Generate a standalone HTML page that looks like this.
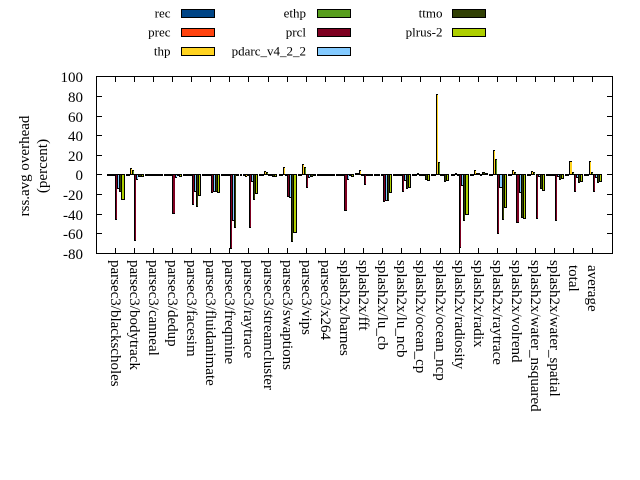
<!DOCTYPE html>
<html><head><meta charset="utf-8">
<style>
body{margin:0;width:640px;height:480px;background:#fff;position:relative;overflow:hidden;font-family:"Liberation Serif",serif}
svg{position:absolute;left:0;top:0}
#bars{position:absolute;left:105.55px;top:174px;display:flex;height:0}
.c{position:relative;width:19.111px;height:0;flex:none}
.c i{position:absolute;width:1.12px;border:1px solid #000;border-right:0;height:calc(var(--v) * 0.981px - 1px)}
.c i.n{top:0}
.c i.p{bottom:-1px}
.c i:nth-child(1){left:1.06px;background:#004586}
.c i:nth-child(2){left:3.19px;background:#ff420e}
.c i:nth-child(3){left:5.31px;background:#ffd320}
.c i:nth-child(4){left:7.43px;background:#579d1c}
.c i:nth-child(5){left:9.555px;background:#7e0021}
.c i:nth-child(6){left:11.68px;background:#83caff}
.c i:nth-child(7){left:13.80px;background:#314004}
.c i:nth-child(8){left:15.93px;background:#aecf00;border-right:1px solid #000}
</style></head><body>
<svg width="640" height="480" viewBox="0 0 640 480" font-family="Liberation Serif, serif">
<rect x="96.5" y="76.5" width="516" height="177" fill="none" stroke="#000" shape-rendering="crispEdges"/>
<path shape-rendering="crispEdges" stroke="#000" fill="none" d="
M115.5 253V248M134.5 253V248M153.5 253V248M172.5 253V248M191.5 253V248M210.5 253V248M229.5 253V248M248.5 253V248M268.5 253V248M287.5 253V248M306.5 253V248M325.5 253V248M344.5 253V248M363.5 253V248M382.5 253V248M401.5 253V248M420.5 253V248M440.5 253V248M459.5 253V248M478.5 253V248M497.5 253V248M516.5 253V248M535.5 253V248M554.5 253V248M573.5 253V248M592.5 253V248
M115.5 77V82M134.5 77V82M153.5 77V82M172.5 77V82M191.5 77V82M210.5 77V82M229.5 77V82M248.5 77V82M268.5 77V82M287.5 77V82M306.5 77V82M325.5 77V82M344.5 77V82M363.5 77V82M382.5 77V82M401.5 77V82M420.5 77V82M440.5 77V82M459.5 77V82M478.5 77V82M497.5 77V82M516.5 77V82M535.5 77V82M554.5 77V82M573.5 77V82M592.5 77V82
M97 96.5H102M97 116.5H102M97 135.5H102M97 155.5H102M97 174.5H102M97 194.5H102M97 214.5H102M97 233.5H102
M612 96.5H607M612 116.5H607M612 135.5H607M612 155.5H607M612 174.5H607M612 194.5H607M612 214.5H607M612 233.5H607"/>
<g font-size="15" text-anchor="end" fill="#000">
<text x="83" y="82">100</text>
<text x="83" y="102">80</text>
<text x="83" y="122">60</text>
<text x="83" y="141">40</text>
<text x="83" y="161">20</text>
<text x="83" y="180">0</text>
<text x="83" y="200">-20</text>
<text x="83" y="220">-40</text>
<text x="83" y="239">-60</text>
<text x="83" y="259">-80</text>
</g>
<g font-size="15" text-anchor="middle" fill="#000">
<text transform="translate(29,166) rotate(-90)">rss.avg overhead</text>
<text transform="translate(47,166) rotate(-90)">(percent)</text>
</g>
<g font-size="15" fill="#000">
<text transform="translate(111,260) rotate(90)">parsec3/blackscholes</text>
<text transform="translate(130,260) rotate(90)">parsec3/bodytrack</text>
<text transform="translate(149,260) rotate(90)">parsec3/canneal</text>
<text transform="translate(168,260) rotate(90)">parsec3/dedup</text>
<text transform="translate(187,260) rotate(90)">parsec3/facesim</text>
<text transform="translate(206,260) rotate(90)">parsec3/fluidanimate</text>
<text transform="translate(225,260) rotate(90)">parsec3/freqmine</text>
<text transform="translate(244,260) rotate(90)">parsec3/raytrace</text>
<text transform="translate(264,260) rotate(90)">parsec3/streamcluster</text>
<text transform="translate(283,260) rotate(90)">parsec3/swaptions</text>
<text transform="translate(302,260) rotate(90)">parsec3/vips</text>
<text transform="translate(321,260) rotate(90)">parsec3/x264</text>
<text transform="translate(340,260) rotate(90)">splash2x/barnes</text>
<text transform="translate(359,260) rotate(90)">splash2x/fft</text>
<text transform="translate(378,260) rotate(90)">splash2x/lu_cb</text>
<text transform="translate(397,260) rotate(90)">splash2x/lu_ncb</text>
<text transform="translate(416,260) rotate(90)">splash2x/ocean_cp</text>
<text transform="translate(436,260) rotate(90)">splash2x/ocean_ncp</text>
<text transform="translate(455,260) rotate(90)">splash2x/radiosity</text>
<text transform="translate(474,260) rotate(90)">splash2x/radix</text>
<text transform="translate(493,260) rotate(90)">splash2x/raytrace</text>
<text transform="translate(512,260) rotate(90)">splash2x/volrend</text>
<text transform="translate(531,260) rotate(90)">splash2x/water_nsquared</text>
<text transform="translate(550,260) rotate(90)">splash2x/water_spatial</text>
<text transform="translate(569,265) rotate(90)">total</text>
<text transform="translate(588,265) rotate(90)">average</text>
</g>
<g font-size="13" text-anchor="end" fill="#000">
<text x="170.5" y="17.5">rec</text>
<text x="170.5" y="36.5">prec</text>
<text x="170.5" y="55.5">thp</text>
<text x="306" y="17.5">ethp</text>
<text x="306" y="36.5">prcl</text>
<text x="306" y="55.5">pdarc_v4_2_2</text>
<text x="442.5" y="17.5">ttmo</text>
<text x="442.5" y="36.5">plrus-2</text>
</g>
<g stroke="#000" shape-rendering="crispEdges">
<rect x="181.5" y="9.5" width="33" height="8" fill="#004586"/>
<rect x="181.5" y="28.5" width="33" height="8" fill="#ff420e"/>
<rect x="181.5" y="47.5" width="33" height="8" fill="#ffd320"/>
<rect x="317.5" y="9.5" width="33" height="8" fill="#579d1c"/>
<rect x="317.5" y="28.5" width="33" height="8" fill="#7e0021"/>
<rect x="317.5" y="47.5" width="33" height="8" fill="#83caff"/>
<rect x="452.5" y="9.5" width="33" height="8" fill="#314004"/>
<rect x="452.5" y="28.5" width="33" height="8" fill="#aecf00"/>
</g>
</svg>
<div id="bars">
<div class="c"><i class="n" style="--v:.5"></i><i class="n" style="--v:.5"></i><i class="n" style="--v:.5"></i><i class="n" style="--v:1"></i><i class="n" style="--v:46"></i><i class="n" style="--v:14.6"></i><i class="n" style="--v:17.6"></i><i class="n" style="--v:25.8"></i></div>
<div class="c"><i class="n" style="--v:1"></i><i class="n" style="--v:1"></i><i class="p" style="--v:6.1"></i><i class="p" style="--v:4.1"></i><i class="n" style="--v:67"></i><i class="n" style="--v:5.1"></i><i class="n" style="--v:2"></i><i class="n" style="--v:2.4"></i></div>
<div class="c"><i class="n" style="--v:.5"></i><i class="n" style="--v:.5"></i><i class="n" style="--v:1"></i><i class="n" style="--v:.5"></i><i class="n" style="--v:.5"></i><i class="n" style="--v:1"></i><i class="n" style="--v:1"></i><i class="n" style="--v:1"></i></div>
<div class="c"><i class="n" style="--v:1"></i><i class="n" style="--v:1"></i><i class="n" style="--v:1"></i><i class="n" style="--v:1"></i><i class="n" style="--v:40"></i><i class="n" style="--v:3"></i><i class="n" style="--v:1"></i><i class="n" style="--v:2.4"></i></div>
<div class="c"><i class="n" style="--v:.3"></i><i class="n" style="--v:.3"></i><i class="n" style="--v:.3"></i><i class="n" style="--v:.3"></i><i class="n" style="--v:31"></i><i class="n" style="--v:17.6"></i><i class="n" style="--v:32.9"></i><i class="n" style="--v:21.7"></i></div>
<div class="c"><i class="n" style="--v:.5"></i><i class="n" style="--v:.5"></i><i class="n" style="--v:.5"></i><i class="n" style="--v:.5"></i><i class="n" style="--v:18.6"></i><i class="n" style="--v:17.6"></i><i class="n" style="--v:17.6"></i><i class="n" style="--v:18.6"></i></div>
<div class="c"><i class="n" style="--v:.5"></i><i class="n" style="--v:.5"></i><i class="n" style="--v:.5"></i><i class="n" style="--v:.5"></i><i class="n" style="--v:75.3"></i><i class="n" style="--v:46.8"></i><i class="n" style="--v:54"></i><i class="n" style="--v:.3"></i></div>
<div class="c"><i class="n" style="--v:.5"></i><i class="n" style="--v:.5"></i><i class="n" style="--v:2.3"></i><i class="n" style="--v:.5"></i><i class="n" style="--v:54"></i><i class="n" style="--v:7.5"></i><i class="n" style="--v:25.8"></i><i class="n" style="--v:19.7"></i></div>
<div class="c"><i class="n" style="--v:.3"></i><i class="n" style="--v:.3"></i><i class="p" style="--v:3.4"></i><i class="p" style="--v:2"></i><i class="n" style="--v:.7"></i><i class="n" style="--v:1"></i><i class="n" style="--v:2"></i><i class="n" style="--v:2"></i></div>
<div class="c"><i class="n" style="--v:.3"></i><i class="n" style="--v:.3"></i><i class="p" style="--v:7.5"></i><i class="n" style="--v:.3"></i><i class="n" style="--v:22.7"></i><i class="n" style="--v:23.7"></i><i class="n" style="--v:68.5"></i><i class="n" style="--v:59"></i></div>
<div class="c"><i class="n" style="--v:.3"></i><i class="n" style="--v:.3"></i><i class="p" style="--v:10.5"></i><i class="p" style="--v:7.5"></i><i class="n" style="--v:13.2"></i><i class="n" style="--v:3"></i><i class="n" style="--v:1.7"></i><i class="n" style="--v:1"></i></div>
<div class="c"><i class="n" style="--v:1"></i><i class="n" style="--v:1"></i><i class="n" style="--v:1"></i><i class="n" style="--v:1"></i><i class="n" style="--v:1"></i><i class="n" style="--v:.7"></i><i class="n" style="--v:1"></i><i class="n" style="--v:1"></i></div>
<div class="c"><i class="n" style="--v:.7"></i><i class="n" style="--v:.7"></i><i class="n" style="--v:.7"></i><i class="n" style="--v:.7"></i><i class="n" style="--v:37"></i><i class="n" style="--v:5.4"></i><i class="n" style="--v:1.4"></i><i class="n" style="--v:2"></i></div>
<div class="c"><i class="p" style="--v:1"></i><i class="p" style="--v:1"></i><i class="p" style="--v:4"></i><i class="n" style="--v:.3"></i><i class="n" style="--v:10"></i><i class="n" style="--v:.7"></i><i class="n" style="--v:.7"></i><i class="n" style="--v:.7"></i></div>
<div class="c"><i class="n" style="--v:.3"></i><i class="n" style="--v:.3"></i><i class="n" style="--v:.3"></i><i class="n" style="--v:.7"></i><i class="n" style="--v:27.8"></i><i class="n" style="--v:26.8"></i><i class="n" style="--v:26.4"></i><i class="n" style="--v:18.3"></i></div>
<div class="c"><i class="n" style="--v:1"></i><i class="n" style="--v:.3"></i><i class="n" style="--v:.3"></i><i class="n" style="--v:.3"></i><i class="n" style="--v:17.6"></i><i class="n" style="--v:6"></i><i class="n" style="--v:14.2"></i><i class="n" style="--v:13.6"></i></div>
<div class="c"><i class="n" style="--v:.3"></i><i class="n" style="--v:.3"></i><i class="p" style="--v:1"></i><i class="n" style="--v:.3"></i><i class="n" style="--v:.3"></i><i class="n" style="--v:.3"></i><i class="n" style="--v:5"></i><i class="n" style="--v:6"></i></div>
<div class="c"><i class="n" style="--v:.3"></i><i class="n" style="--v:.3"></i><i class="p" style="--v:81.4"></i><i class="p" style="--v:12.2"></i><i class="n" style="--v:.5"></i><i class="n" style="--v:.5"></i><i class="n" style="--v:7"></i><i class="n" style="--v:6.4"></i></div>
<div class="c"><i class="n" style="--v:.5"></i><i class="n" style="--v:.3"></i><i class="p" style="--v:1"></i><i class="n" style="--v:.3"></i><i class="n" style="--v:74.6"></i><i class="n" style="--v:11"></i><i class="n" style="--v:46.8"></i><i class="n" style="--v:40.7"></i></div>
<div class="c"><i class="n" style="--v:.3"></i><i class="n" style="--v:.3"></i><i class="p" style="--v:4"></i><i class="p" style="--v:1"></i><i class="p" style="--v:1"></i><i class="n" style="--v:.3"></i><i class="p" style="--v:2.3"></i><i class="p" style="--v:1"></i></div>
<div class="c"><i class="n" style="--v:1"></i><i class="n" style="--v:.3"></i><i class="p" style="--v:24.8"></i><i class="p" style="--v:15.6"></i><i class="n" style="--v:60.4"></i><i class="n" style="--v:13.2"></i><i class="n" style="--v:46"></i><i class="n" style="--v:33.9"></i></div>
<div class="c"><i class="n" style="--v:.3"></i><i class="n" style="--v:.3"></i><i class="p" style="--v:4.4"></i><i class="p" style="--v:2"></i><i class="n" style="--v:49.2"></i><i class="n" style="--v:18.3"></i><i class="n" style="--v:44"></i><i class="n" style="--v:45.1"></i></div>
<div class="c"><i class="n" style="--v:.3"></i><i class="n" style="--v:.3"></i><i class="p" style="--v:3.4"></i><i class="p" style="--v:2"></i><i class="n" style="--v:45.1"></i><i class="n" style="--v:2"></i><i class="n" style="--v:14.6"></i><i class="n" style="--v:16.6"></i></div>
<div class="c"><i class="n" style="--v:1"></i><i class="n" style="--v:.5"></i><i class="n" style="--v:.5"></i><i class="n" style="--v:.5"></i><i class="n" style="--v:47.1"></i><i class="n" style="--v:2"></i><i class="n" style="--v:5"></i><i class="n" style="--v:4"></i></div>
<div class="c"><i class="n" style="--v:.3"></i><i class="n" style="--v:.3"></i><i class="p" style="--v:13.6"></i><i class="p" style="--v:2"></i><i class="n" style="--v:17.6"></i><i class="n" style="--v:3"></i><i class="n" style="--v:8.5"></i><i class="n" style="--v:7.5"></i></div>
<div class="c"><i class="n" style="--v:.3"></i><i class="n" style="--v:.3"></i><i class="p" style="--v:13.6"></i><i class="p" style="--v:2"></i><i class="n" style="--v:17.6"></i><i class="n" style="--v:3"></i><i class="n" style="--v:8.5"></i><i class="n" style="--v:7.5"></i></div>
</div>
</body></html>
